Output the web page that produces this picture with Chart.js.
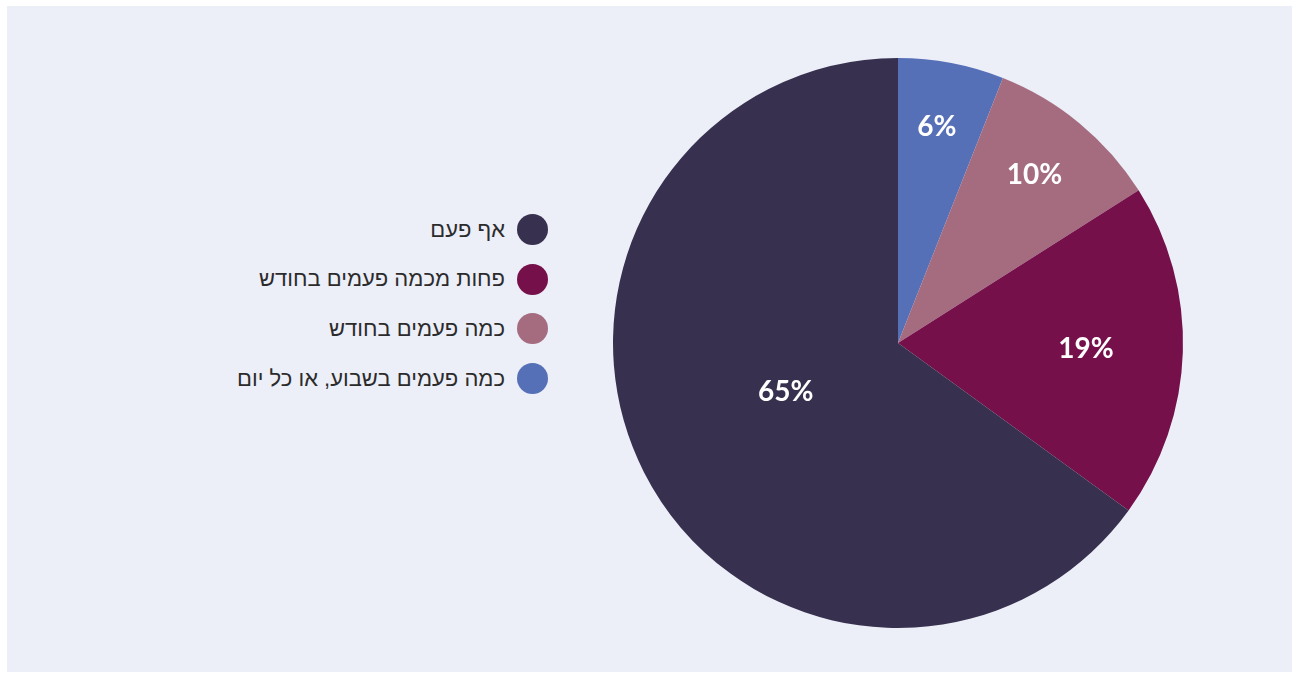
<!DOCTYPE html>
<html lang="he">
<head>
<meta charset="utf-8">
<script src="https://cdn.jsdelivr.net/npm/chart.js@4"></script>
<style>
    html, body { margin: 0; padding: 0; background: #ffffff; }
    body { width: 1293px; height: 673px; position: relative; overflow: hidden; }
    .panel { position: absolute; left: 7px; top: 6px; width: 1285px; height: 666px; background: #eceef8; }
    .chart-box { position: absolute; left: 598px; top: 43px; width: 600px; height: 600px; }
    #legend { position: absolute; right: 745px; top: 214px; direction: rtl; font-family: 'Liberation Sans', 'DejaVu Sans', sans-serif; font-size: 22px; color: #2b2b2b; }
    #legend .row { display: flex; align-items: center; height: 31px; margin-bottom: 18.7px; }
    #legend .dot { width: 31px; height: 31px; border-radius: 50%; margin-left: 12px; flex: none; }
</style>
</head>
<body>
<div class="panel"></div>
<div id="legend"></div>
<div class="chart-box"><canvas id="pieChart"></canvas></div>
<script>
const categories = ['כמה פעמים בשבוע, או כל יום', 'כמה פעמים בחודש', 'פחות מכמה פעמים בחודש', 'אף פעם'];
const values = [6, 10, 19, 65];
const colors = ['#5670b8', '#a56c80', '#76104a', '#37304f'];
const legendOrder = [3, 2, 1, 0];

// legend drawn as html so it can sit where the original has it
const legendEl = document.getElementById('legend');
legendOrder.forEach(i => {
    const row = document.createElement('div');
    row.className = 'row';
    row.innerHTML = `<span class="dot" style="background:${colors[i]}"></span><span>${categories[i]}</span>`;
    legendEl.appendChild(row);
});

// percent labels inside the slices, radius fraction + small angle nudge per slice
const sliceLabels = {
    id: 'sliceLabels',
    afterDatasetsDraw(chart, args, opts) {
        const ctx = chart.ctx;
        const meta = chart.getDatasetMeta(0);
        ctx.save();
        ctx.font = 'bold 28px Lato, sans-serif';
        ctx.fillStyle = '#ffffff';
        ctx.textAlign = 'center';
        ctx.textBaseline = 'middle';
        meta.data.forEach((arc, i) => {
            const p = arc.getProps(['x', 'y', 'startAngle', 'endAngle', 'outerRadius'], true);
            const mid = (p.startAngle + p.endAngle) / 2 + opts.nudge[i];
            const r = p.outerRadius * opts.radius[i];
            ctx.fillText(values[i] + '%', p.x + Math.cos(mid) * r, p.y + Math.sin(mid) * r);
        });
        ctx.restore();
    }
};

new Chart(document.getElementById('pieChart'), {
    type: 'pie',
    data: {
        labels: categories,
        datasets: [{
            data: values,
            backgroundColor: colors,
            borderWidth: 0
        }]
    },
    options: {
        responsive: true,
        maintainAspectRatio: false,
        animation: false,
        layout: { padding: 15 },
        plugins: {
            legend: { display: false },
            tooltip: { enabled: false },
            sliceLabels: { radius: [0.77, 0.76, 0.66, 0.43], nudge: [-0.01, -0.01, 0, 0.06] }
        }
    },
    plugins: [sliceLabels]
});
</script>
</body>
</html>
